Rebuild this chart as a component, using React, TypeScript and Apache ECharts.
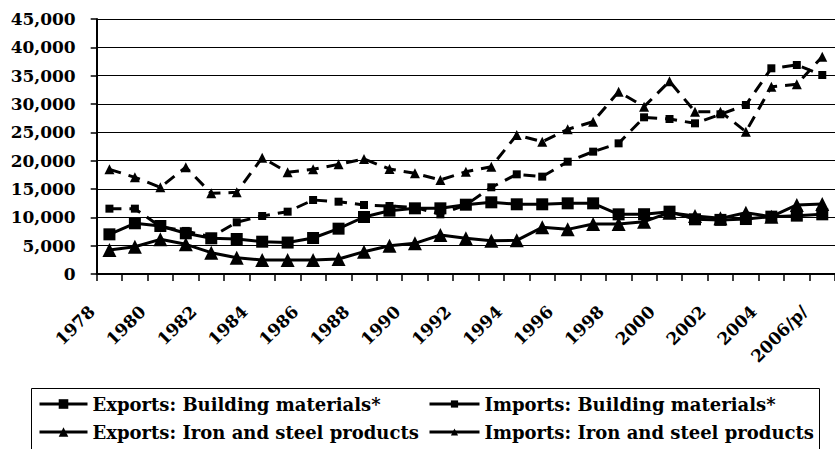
import React, { useEffect, useRef } from "react";
import * as echarts from "echarts";

const categories = [
  "1978", "1979", "1980", "1981", "1982", "1983", "1984", "1985", "1986", "1987",
  "1988", "1989", "1990", "1991", "1992", "1993", "1994", "1995", "1996", "1997",
  "1998", "1999", "2000", "2001", "2002", "2003", "2004", "2005", "2006/p/",
];

const exportsBuilding = [
  7000, 8950, 8470, 7180, 6300, 6180, 5700, 5550, 6350, 8000,
  10060, 11170, 11590, 11590, 12230, 12650, 12300, 12300, 12470, 12470,
  10530, 10550, 11000, 9650, 9550, 9700, 10120, 10300, 10530,
];

const exportsIron = [
  4240, 4820, 6120, 5240, 3760, 2880, 2470, 2470, 2470, 2650,
  3940, 5000, 5410, 6880, 6300, 5880, 5940, 8240, 7880, 8820,
  8820, 9230, 10820, 10240, 9820, 10820, 10120, 12180, 12350,
];

const importsBuilding = [
  11530, 11530, 8350, 7600, 6550, 9120, 10240, 11000, 13060, 12760,
  12180, 12000, 11770, 10530, 12180, 15300, 17590, 17180, 19820, 21590,
  23060, 27650, 27350, 26590, 28180, 29820, 36300, 36880, 35120,
];

const importsIron = [
  18470, 17060, 15300, 18830, 14240, 14410, 20530, 17940, 18470, 19350,
  20290, 18530, 17770, 16590, 18060, 18940, 24530, 23350, 25530, 26880,
  32170, 29530, 34000, 28650, 28650, 25120, 33060, 33470, 38350,
];

const seriesNames = [
  "Exports: Building materials*",
  "Imports: Building materials*",
  "Exports: Iron and steel products",
  "Imports: Iron and steel products",
];

const FONT = "DejaVu Serif";

export default function App() {
  const ref = useRef<HTMLDivElement>(null);

  useEffect(() => {
    if (!ref.current) return;
    const chart = echarts.init(ref.current, null, { renderer: "svg" });
    const legendText = {
      fontFamily: FONT,
      fontWeight: "bold" as const,
      fontSize: 18,
      color: "#000",
      lineHeight: 20,
    };
    chart.setOption({
      animation: false,
      backgroundColor: "#fff",
      textStyle: { fontFamily: FONT },
      grid: { left: 96.7, top: 19, right: -8.5, bottom: 175 },
      legend: [
        {
          data: [seriesNames[0], seriesNames[2]],
          orient: "vertical",
          left: 38,
          top: 394,
          padding: 0,
          itemGap: 8,
          itemWidth: 48,
          itemHeight: 12,
          textStyle: legendText,
          lineStyle: { type: "solid", width: 3 },
          selectedMode: false,
        },
        {
          data: [seriesNames[1], seriesNames[3]],
          orient: "vertical",
          left: 428,
          top: 394,
          padding: 0,
          itemGap: 8,
          itemWidth: 50,
          itemHeight: 9,
          textStyle: legendText,
          lineStyle: { type: "solid", width: 3 },
          selectedMode: false,
        },
      ],
      graphic: [
        {
          type: "rect",
          shape: { x: 31.5, y: 388.5, width: 788, height: 80 },
          style: { fill: "none", stroke: "#000", lineWidth: 1 },
          silent: true,
        },
      ],
      xAxis: {
        type: "category",
        data: categories,
        boundaryGap: true,
        axisLine: { lineStyle: { color: "#000", width: 2 } },
        axisTick: { show: true, interval: 0, length: 7, lineStyle: { color: "#000", width: 1.5 } },
        axisLabel: {
          interval: 1,
          rotate: 45,
          margin: 17,
          fontFamily: FONT,
          fontWeight: "bold",
          fontSize: 17,
          color: "#000",
          formatter: (v: string) => `{a|${v}}`,
          rich: {
            a: {
              fontFamily: FONT,
              fontWeight: "bold",
              fontSize: 17,
              color: "#000",
              padding: [0, 25, 0, 0],
            },
          },
        },
        splitLine: { show: false },
      },
      yAxis: {
        type: "value",
        min: 0,
        max: 45000,
        interval: 5000,
        axisLine: { show: true, lineStyle: { color: "#000", width: 2 } },
        axisTick: { show: true, length: 6, lineStyle: { color: "#000", width: 1.5 } },
        axisLabel: {
          margin: 21,
          fontFamily: FONT,
          fontWeight: "bold",
          fontSize: 17,
          color: "#000",
          formatter: (v: number) => v.toLocaleString("en-US"),
        },
        splitLine: { show: true, lineStyle: { color: "#000", width: 1 } },
      },
      series: [
        {
          name: seriesNames[0],
          type: "line",
          data: exportsBuilding,
          symbol: "rect",
          symbolSize: 12,
          itemStyle: { color: "#000" },
          lineStyle: { color: "#000", width: 3 },
        },
        {
          name: seriesNames[1],
          type: "line",
          data: importsBuilding,
          symbol: "rect",
          symbolSize: 8,
          itemStyle: { color: "#000" },
          lineStyle: { color: "#000", width: 3, type: [12, 8] },
        },
        {
          name: seriesNames[2],
          type: "line",
          data: exportsIron,
          symbol: "triangle",
          symbolSize: 14,
          itemStyle: { color: "#000" },
          lineStyle: { color: "#000", width: 3 },
        },
        {
          name: seriesNames[3],
          type: "line",
          data: importsIron,
          symbol: "triangle",
          symbolSize: 10,
          itemStyle: { color: "#000" },
          lineStyle: { color: "#000", width: 3, type: [12, 8] },
        },
      ],
    });
    return () => chart.dispose();
  }, []);

  return (
    <div
      ref={ref}
      style={{ position: "fixed", left: 0, top: 0, width: 835, height: 449 }}
    />
  );
}
